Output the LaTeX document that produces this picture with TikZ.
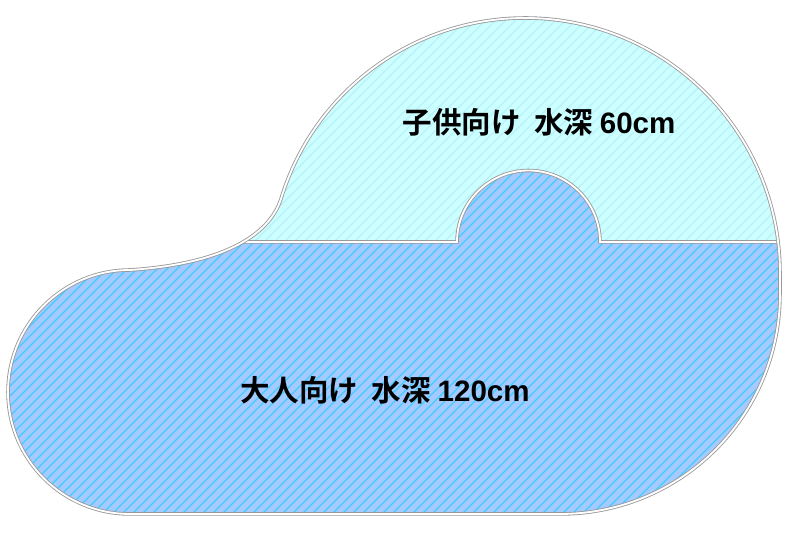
\documentclass[tikz,border=0pt]{standalone}
\usepackage{fontspec}
\newfontfamily\jpfont{Noto Sans CJK JP}[BoldFont={* Bold}]
\newfontfamily\latinfont{Liberation Sans}
\definecolor{shallow}{HTML}{CCFFFF}
\definecolor{shallowline}{HTML}{B8F0FA}
\definecolor{deep}{HTML}{A4CAFF}
\definecolor{deepline}{HTML}{40CCFF}
\definecolor{rim}{HTML}{999999}
\tikzset{
  poolrim/.style={draw=rim, line width=0.6pt, double=white, double distance=1.3pt},
  label/.style={font=\jpfont\bfseries\fontsize{21}{21}\selectfont, inner sep=0pt}
}
\newcommand\depth[1]{{\latinfont\bfseries #1}}
\def\poolpath{(130,266) arc (90:270:122) -- (560,22) arc (270:360:220) -- (780,263)
  arc (0:163:255) .. controls (269,299) and (220,272) .. (130,266) -- cycle}
\begin{document}
\begin{tikzpicture}[x=0.025cm, y=0.025cm]
    \useasboundingbox (0,0) rectangle (792,536);
    \fill[shallow] \poolpath;
    \begin{scope}
        \clip \poolpath;
        \foreach \i in {-540,-530,...,800}
            \draw[shallowline, line width=0.9pt] (\i,0) -- ++(536,536);
        % deep part
        \clip (0,0) -- (0,294) -- (457,294) arc (180:0:71.5) -- (792,294) -- (792,0) -- cycle;
        \fill[deep] (0,0) rectangle (792,536);
        \foreach \i in {-540,-530,...,800}
            \draw[deepline, line width=0.9pt] (\i,0) -- ++(536,536);
    \end{scope}
    \begin{scope}
        \clip \poolpath;
        \draw[poolrim] (200,294) -- (457,294) arc (180:0:71.5) -- (800,294);
    \end{scope}
    \draw[poolrim] \poolpath;
    \node[label] (kids) at (539,414) {子供向け\ \ 水深 \depth{60cm}};
    \node[label] (adults) at (385,146) {大人向け\ \ 水深 \depth{120cm}};
\end{tikzpicture}
\end{document}
